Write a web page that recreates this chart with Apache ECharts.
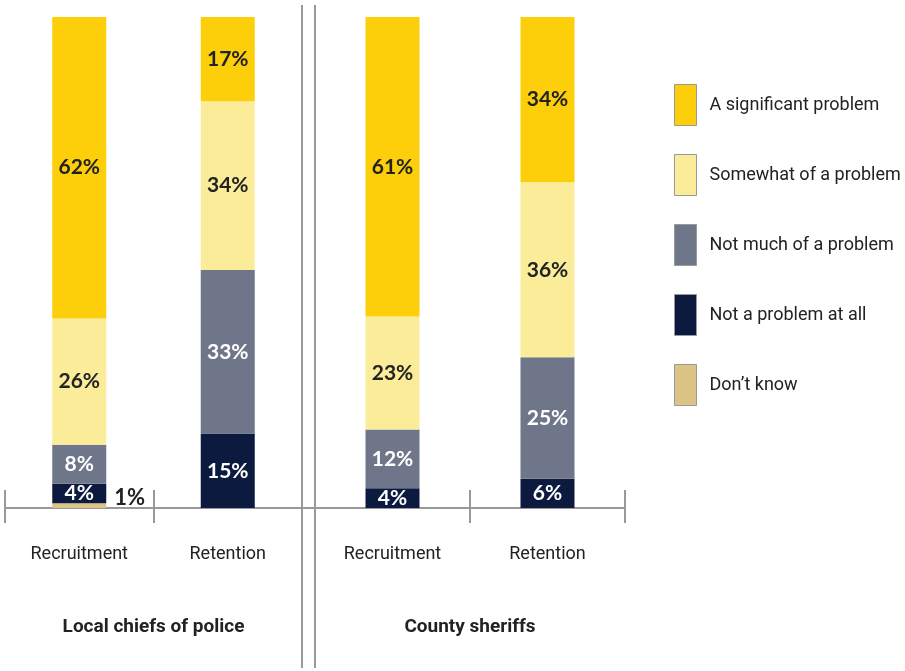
<!DOCTYPE html>
<html lang="en">
<head>
    <meta charset="UTF-8">
    <title>Recruitment and retention</title>
    <script src="https://cdn.jsdelivr.net/npm/echarts@6/dist/echarts.min.js"></script>
    <style>
        html, body { margin: 0; padding: 0; background: #fff; }
    </style>
</head>
<body>
    <div id="chart" style="width:905px;height:671px"></div>
<script>
    // two panels, two bars each
    let groups = ['Local chiefs of police', 'County sheriffs'];
    let categories = ['Recruitment', 'Retention'];
    let seriesNames = ['Don\u2019t know', 'Not a problem at all', 'Not much of a problem', 'Somewhat of a problem', 'A significant problem'];
    let legendOrder = ['A significant problem', 'Somewhat of a problem', 'Not much of a problem', 'Not a problem at all', 'Don\u2019t know'];
    let colors = ['#dcc485', '#0b1a3e', '#6f7689', '#fbec9a', '#fccf0a'];
    let labelColors = ['#222', '#fff', '#fff', '#222', '#222'];

    // values per series (same order as seriesNames): [recruitment, retention]
    let localValues = [
        [1, 0],
        [4, 15],
        [8, 33],
        [26, 34],
        [62, 17]
    ];
    let countyValues = [
        [0, 0],
        [4, 6],
        [12, 25],
        [23, 36],
        [61, 34]
    ];

    let font = '"Roboto", sans-serif';

    function totals(values) {
        return categories.map((c, j) => values.reduce((s, row) => s + row[j], 0));
    }

    function buildSeries(values, gridIdx) {
        let tot = totals(values);
        return seriesNames.map((name, i) => ({
            name: name,
            type: 'bar',
            stack: 'g' + gridIdx,
            xAxisIndex: gridIdx * 2,
            yAxisIndex: gridIdx,
            barWidth: 54,
            itemStyle: { color: colors[i] },
            data: values[i].map((v, j) => {
                let item = { value: v / tot[j] * 100, raw: v };
                if (i === 0 && v > 0) {
                    item.label = { position: 'right', offset: [2, -8], color: '#222', distance: 6, fontSize: 22 };
                }
                return item;
            }),
            label: {
                show: true,
                position: 'inside',
                color: labelColors[i],
                fontFamily: 'Lato, sans-serif',
                fontWeight: 'bold',
                fontSize: 21,
                formatter: (p) => p.data.raw > 0 ? p.data.raw + '%' : ''
            }
        }));
    }

    let xAxes = [];
    let yAxes = [];
    [0, 1].forEach((g) => {
        // outer ticks + labels + group name
        xAxes.push({
            type: 'category',
            gridIndex: g,
            data: categories,
            axisLine: { show: true, lineStyle: { color: '#999', width: 2 } },
            axisTick: { show: true, interval: 0, length: 15, lineStyle: { color: '#999', width: 2 } },
            axisLabel: { interval: 0, margin: 37, color: '#222', fontSize: 18, fontFamily: font },
            name: groups[g],
            nameLocation: 'middle',
            nameGap: 110,
            nameTextStyle: { color: '#222', fontSize: 19, fontWeight: 'bold', fontFamily: font }
        });
        // inner ticks (upward part of the cross ticks)
        xAxes.push({
            type: 'category',
            gridIndex: g,
            data: categories,
            position: 'bottom',
            axisLine: { show: false },
            axisTick: { show: true, interval: 0, inside: true, length: 18, lineStyle: { color: '#999', width: 2 } },
            axisLabel: { show: false }
        });
        yAxes.push({ type: 'value', gridIndex: g, min: 0, max: 100, show: false });
    });

    let chart = echarts.init(document.getElementById('chart'));
    chart.setOption({
        animation: false,
        grid: [
            { left: 5, right: 603, top: 17, bottom: 163 },
            { left: 315, right: 280, top: 17, bottom: 163 }
        ],
        xAxis: xAxes,
        yAxis: yAxes,
        legend: {
            data: legendOrder,
            orient: 'vertical',
            left: 669,
            top: 79,
            itemWidth: 22,
            itemHeight: 41,
            itemGap: 28,
            icon: 'rect',
            itemStyle: { borderColor: '#999', borderWidth: 1 },
            textStyle: { color: '#222', fontSize: 18, fontFamily: font, padding: [0, 0, 0, 8] }
        },
        graphic: [
            { type: 'line', shape: { x1: 302, y1: 5, x2: 302, y2: 668 }, style: { stroke: '#999', lineWidth: 2 } },
            { type: 'line', shape: { x1: 315, y1: 5, x2: 315, y2: 668 }, style: { stroke: '#999', lineWidth: 2 } },
            { type: 'line', shape: { x1: 302, y1: 508, x2: 315, y2: 508 }, style: { stroke: '#999', lineWidth: 2 } }
        ],
        series: buildSeries(localValues, 0).concat(buildSeries(countyValues, 1))
    });
</script>
</body>
</html>
